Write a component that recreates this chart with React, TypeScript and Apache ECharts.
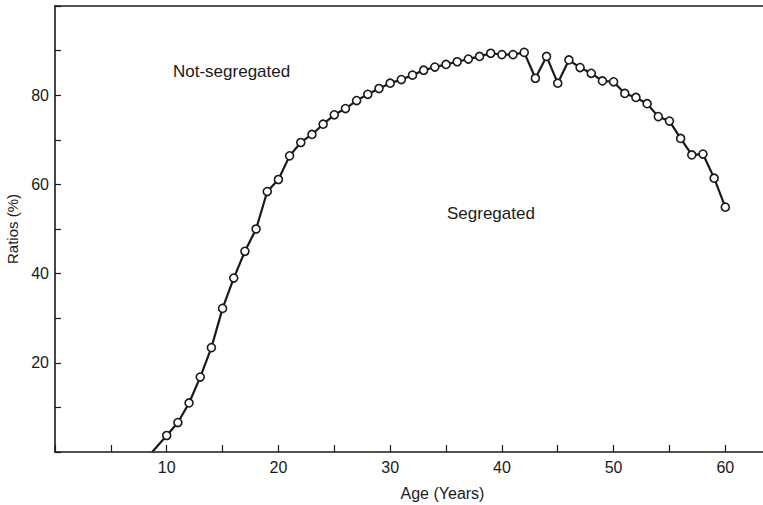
import React, { useEffect, useRef } from "react";
import * as echarts from "echarts";

const ages = [10, 11, 12, 13, 14, 15, 16, 17, 18, 19, 20, 21, 22, 23, 24, 25, 26, 27, 28, 29, 30, 31, 32, 33, 34, 35, 36, 37, 38, 39, 40, 41, 42, 43, 44, 45, 46, 47, 48, 49, 50, 51, 52, 53, 54, 55, 56, 57, 58, 59, 60];
const ratios = [3.7, 6.6, 11.0, 16.8, 23.4, 32.2, 39.0, 45.0, 50.0, 58.4, 61.1, 66.4, 69.4, 71.2, 73.5, 75.6, 77.0, 78.8, 80.2, 81.5, 82.7, 83.5, 84.5, 85.6, 86.3, 86.9, 87.5, 88.1, 88.7, 89.4, 89.1, 89.1, 89.6, 83.8, 88.7, 82.7, 87.9, 86.2, 84.9, 83.2, 83.0, 80.4, 79.5, 78.1, 75.2, 74.2, 70.3, 66.6, 66.8, 61.4, 54.9];
// where the drawn curve meets the age axis (no marker)
const curveStart = [8.7, 0];
const xTickLabels = [10, 20, 30, 40, 50, 60];
const yTickLabels = [20, 40, 60, 80];
const annotations = [
  { text: "Not-segregated" },
  { text: "Segregated" },
];

const FONT = "'Liberation Sans', Arial, sans-serif";
const INK = "#1a1a1a";

export default function App() {
  const ref = useRef<HTMLDivElement>(null);
  useEffect(() => {
    if (!ref.current) return;
    const chart = echarts.init(ref.current, null, { renderer: "svg" });
    const data: any[] = [
      { value: curveStart, symbol: "none" },
      ...ages.map((a, i) => [a, ratios[i]]),
    ];
    chart.setOption({
      animation: false,
      backgroundColor: "#ffffff",
      grid: { left: 55, top: 6, bottom: 53, right: -7, containLabel: false, outerBoundsMode: "none" },
      xAxis: [
        {
          type: "value",
          min: 0,
          max: 64,
          interval: 5,
          name: "Age (Years)",
          nameLocation: "middle",
          nameGap: 33,
          nameTextStyle: { fontFamily: FONT, fontSize: 16, color: INK, padding: [0, 0, 0, 60] },
          axisLine: { show: true, onZero: false, lineStyle: { color: INK, width: 1.6 } },
          axisTick: { show: true, inside: true, length: 7, lineStyle: { color: INK, width: 1.2 } },
          axisLabel: {
            fontFamily: FONT,
            fontSize: 16,
            color: INK,
            margin: 7,
            formatter: (v: number) => (xTickLabels.includes(v) ? String(v) : ""),
          },
          splitLine: { show: false },
        },
        {
          type: "value",
          position: "top",
          min: 0,
          max: 64,
          axisLine: { show: true, onZero: false, lineStyle: { color: INK, width: 1.6 } },
          axisTick: { show: false },
          axisLabel: { show: false },
          splitLine: { show: false },
        },
      ],
      yAxis: {
        type: "value",
        min: 0,
        max: 100,
        interval: 10,
        name: "Ratios (%)",
        nameLocation: "middle",
        nameGap: 33,
        nameTextStyle: { fontFamily: FONT, fontSize: 15, color: INK },
        axisLine: { show: true, onZero: false, lineStyle: { color: INK, width: 1.6 } },
        axisTick: { show: true, inside: true, length: 6, lineStyle: { color: INK, width: 1.2 } },
        axisLabel: {
          fontFamily: FONT,
          fontSize: 16,
          color: INK,
          margin: 6,
          formatter: (v: number) => (yTickLabels.includes(v) ? String(v) : ""),
        },
        splitLine: { show: false },
      },
      graphic: [
        {
          type: "text",
          left: 173,
          top: 63,
          style: { text: annotations[0].text, font: `17px ${FONT}`, fill: INK },
        },
        {
          type: "text",
          left: 447,
          top: 205,
          style: { text: annotations[1].text, font: `17px ${FONT}`, fill: INK },
        },
      ],
      series: [
        {
          type: "line",
          data,
          xAxisIndex: 0,
          symbol: "circle",
          symbolSize: 8,
          showSymbol: true,
          lineStyle: { color: INK, width: 2.2 },
          itemStyle: { color: "#ffffff", borderColor: INK, borderWidth: 1.6 },
          z: 5,
        },
      ],
    });
    return () => chart.dispose();
  }, []);
  return (
    <div
      ref={ref}
      style={{ position: "absolute", left: 0, top: 0, width: 763, height: 505 }}
    />
  );
}
